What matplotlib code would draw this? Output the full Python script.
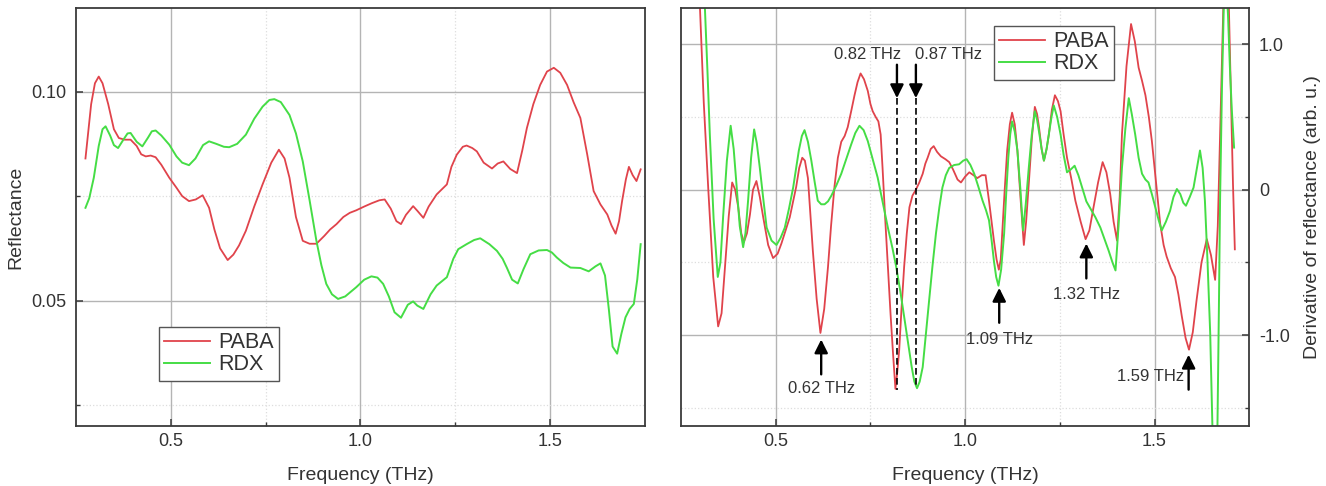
import matplotlib
matplotlib.use("Agg")
import matplotlib.pyplot as plt
from matplotlib.ticker import FixedLocator, FixedFormatter

plt.rcParams['font.family'] = ['Liberation Sans', 'DejaVu Sans']

# ---- left panel: reflectance ----
paba_f = [0.275, 0.290, 0.300, 0.310, 0.320, 0.335, 0.350, 0.363, 0.378, 0.394,
          0.410, 0.422, 0.434, 0.447, 0.460, 0.475, 0.496, 0.515, 0.530, 0.548,
          0.566, 0.584, 0.601, 0.615, 0.630, 0.650, 0.665, 0.680, 0.698, 0.720,
          0.742, 0.765, 0.785, 0.800, 0.813, 0.830, 0.848, 0.866, 0.884, 0.905,
          0.920, 0.937, 0.955, 0.972, 0.989, 1.010, 1.030, 1.050, 1.064, 1.080,
          1.095, 1.107, 1.120, 1.139, 1.150, 1.166, 1.180, 1.201, 1.228, 1.240,
          1.254, 1.270, 1.280, 1.295, 1.307, 1.325, 1.347, 1.362, 1.377, 1.395,
          1.413, 1.427, 1.439, 1.456, 1.474, 1.492, 1.510, 1.527, 1.545, 1.562,
          1.580, 1.598, 1.615, 1.633, 1.651, 1.662, 1.673, 1.682, 1.690, 1.700,
          1.708, 1.718, 1.728, 1.739]
paba_r = [0.0840, 0.0970, 0.1020, 0.1036, 0.1020, 0.0970, 0.0910, 0.0889, 0.0885, 0.0885,
          0.0870, 0.0850, 0.0845, 0.0847, 0.0843, 0.0825, 0.0794, 0.0770, 0.0750, 0.0738,
          0.0742, 0.0752, 0.0722, 0.0670, 0.0625, 0.0597, 0.0610, 0.0632, 0.0667, 0.0725,
          0.0778, 0.0830, 0.0861, 0.0840, 0.0794, 0.0700, 0.0643, 0.0636, 0.0636, 0.0655,
          0.0670, 0.0683, 0.0700, 0.0710, 0.0716, 0.0725, 0.0733, 0.0740, 0.0742, 0.0720,
          0.0690, 0.0683, 0.0705, 0.0726, 0.0715, 0.0698, 0.0725, 0.0754, 0.0778, 0.0820,
          0.0849, 0.0868, 0.0871, 0.0865, 0.0857, 0.0830, 0.0816, 0.0828, 0.0833, 0.0815,
          0.0805, 0.0860, 0.0913, 0.0970, 0.1016, 0.1048, 0.1057, 0.1045, 0.1016, 0.0975,
          0.0937, 0.0850, 0.0762, 0.0730, 0.0706, 0.0680, 0.0660, 0.0690, 0.0738, 0.0790,
          0.0820, 0.0800, 0.0786, 0.0814]

rdx_f = [0.275, 0.285, 0.297, 0.310, 0.320, 0.328, 0.340, 0.350, 0.361, 0.375,
         0.386, 0.394, 0.410, 0.425, 0.440, 0.450, 0.460, 0.475, 0.496, 0.515,
         0.530, 0.548, 0.565, 0.585, 0.601, 0.620, 0.640, 0.654, 0.675, 0.698,
         0.720, 0.742, 0.760, 0.773, 0.790, 0.813, 0.830, 0.848, 0.866, 0.884,
         0.897, 0.910, 0.925, 0.941, 0.960, 0.989, 1.010, 1.029, 1.045, 1.060,
         1.075, 1.090, 1.107, 1.125, 1.139, 1.150, 1.166, 1.185, 1.201, 1.228,
         1.245, 1.258, 1.280, 1.300, 1.316, 1.340, 1.360, 1.375, 1.386, 1.400,
         1.415, 1.430, 1.448, 1.470, 1.492, 1.505, 1.518, 1.535, 1.554, 1.580,
         1.602, 1.620, 1.633, 1.645, 1.655, 1.665, 1.677, 1.688, 1.699, 1.710,
         1.721, 1.730, 1.739]
rdx_r = [0.0722, 0.0745, 0.0794, 0.0870, 0.0910, 0.0917, 0.0895, 0.0872, 0.0865, 0.0885,
         0.0900, 0.0901, 0.0880, 0.0869, 0.0890, 0.0905, 0.0907, 0.0895, 0.0873, 0.0845,
         0.0830, 0.0824, 0.0840, 0.0872, 0.0881, 0.0875, 0.0868, 0.0867, 0.0875, 0.0897,
         0.0935, 0.0964, 0.0980, 0.0982, 0.0975, 0.0944, 0.0900, 0.0833, 0.0740, 0.0643,
         0.0585, 0.0540, 0.0515, 0.0504, 0.0510, 0.0532, 0.0550, 0.0558, 0.0555, 0.0540,
         0.0510, 0.0472, 0.0459, 0.0490, 0.0498, 0.0488, 0.0480, 0.0515, 0.0536, 0.0556,
         0.0600, 0.0623, 0.0635, 0.0645, 0.0649, 0.0635, 0.0619, 0.0600, 0.0579, 0.0550,
         0.0541, 0.0575, 0.0611, 0.0620, 0.0621, 0.0615, 0.0603, 0.0590, 0.0579, 0.0578,
         0.0570, 0.0582, 0.0589, 0.0560, 0.0480, 0.0390, 0.0373, 0.0420, 0.0460, 0.0480,
         0.0492, 0.0550, 0.0635]

# ---- right panel: derivative ----
dpaba_f = [0.295, 0.300, 0.310, 0.322, 0.335, 0.348, 0.357, 0.366, 0.376, 0.385,
           0.393, 0.401, 0.409, 0.416, 0.424, 0.432, 0.440, 0.449, 0.458, 0.467,
           0.480, 0.493, 0.505, 0.515, 0.526, 0.537, 0.546, 0.554, 0.562, 0.570,
           0.577, 0.585, 0.591, 0.598, 0.608, 0.618, 0.628, 0.638, 0.646, 0.655,
           0.664, 0.673, 0.682, 0.690, 0.700, 0.708, 0.716, 0.724, 0.733, 0.743,
           0.750, 0.756, 0.764, 0.771, 0.777, 0.782, 0.789, 0.796, 0.803, 0.809,
           0.816, 0.821, 0.826, 0.832, 0.839, 0.846, 0.853, 0.861, 0.870, 0.879,
           0.888, 0.895, 0.901, 0.909, 0.917, 0.926, 0.936, 0.948, 0.958, 0.968,
           0.980, 0.989, 1.000, 1.011, 1.022, 1.032, 1.044, 1.054, 1.063, 1.070,
           1.076, 1.083, 1.089, 1.094, 1.098, 1.104, 1.111, 1.118, 1.124, 1.131,
           1.138, 1.146, 1.155, 1.161, 1.168, 1.176, 1.184, 1.190, 1.195, 1.202,
           1.208, 1.215, 1.221, 1.229, 1.237, 1.245, 1.252, 1.260, 1.269, 1.280,
           1.291, 1.305, 1.318, 1.328, 1.339, 1.351, 1.363, 1.373, 1.383, 1.392,
           1.401, 1.408, 1.414, 1.426, 1.438, 1.448, 1.458, 1.467, 1.476, 1.485,
           1.493, 1.504, 1.515, 1.524, 1.532, 1.543, 1.554, 1.563, 1.572, 1.582,
           1.591, 1.601, 1.611, 1.624, 1.638, 1.649, 1.660, 1.667, 1.673, 1.679,
           1.684, 1.690, 1.695, 1.702, 1.707, 1.712]
dpaba = [1.60, 1.25, 0.60, 0.00, -0.60, -0.94, -0.85, -0.53, -0.18, 0.05,
         0.00, -0.12, -0.30, -0.36, -0.30, -0.17, 0.00, 0.06, -0.05, -0.19,
         -0.38, -0.47, -0.44, -0.37, -0.28, -0.19, -0.08, 0.02, 0.15, 0.22,
         0.20, 0.08, -0.15, -0.42, -0.75, -0.985, -0.82, -0.53, -0.25, 0.02,
         0.22, 0.33, 0.37, 0.43, 0.55, 0.65, 0.74, 0.80, 0.76, 0.68,
         0.59, 0.54, 0.50, 0.47, 0.38, 0.15, -0.20, -0.53, -0.85, -1.10,
         -1.37, -1.25, -1.10, -0.82, -0.53, -0.30, -0.12, -0.04, 0.00, 0.05,
         0.11, 0.18, 0.22, 0.28, 0.30, 0.26, 0.23, 0.21, 0.19, 0.14,
         0.07, 0.05, 0.09, 0.12, 0.10, 0.08, 0.10, 0.10, -0.075, -0.22,
         -0.35, -0.48, -0.55, -0.48, -0.30, -0.02, 0.27, 0.45, 0.53, 0.45,
         0.27, -0.05, -0.38, -0.22, 0.04, 0.35, 0.57, 0.52, 0.43, 0.28,
         0.20, 0.28, 0.38, 0.55, 0.65, 0.61, 0.54, 0.38, 0.22, 0.08,
         -0.075, -0.22, -0.34, -0.28, -0.12, 0.05, 0.19, 0.12, -0.03, -0.22,
         -0.35, -0.05, 0.38, 0.85, 1.14, 1.02, 0.84, 0.75, 0.65, 0.50,
         0.335, 0.05, -0.235, -0.38, -0.46, -0.54, -0.60, -0.72, -0.87, -1.02,
         -1.10, -0.98, -0.76, -0.50, -0.34, -0.45, -0.62, -0.25, 0.38, 1.00,
         1.50, 1.60, 1.40, 0.61, 0.05, -0.41]

drdx_f = [0.305, 0.313, 0.320, 0.326, 0.336, 0.347, 0.354, 0.361, 0.371, 0.381,
          0.389, 0.397, 0.405, 0.414, 0.420, 0.427, 0.435, 0.443, 0.450, 0.458,
          0.467, 0.476, 0.489, 0.502, 0.513, 0.524, 0.535, 0.546, 0.554, 0.561,
          0.569, 0.576, 0.585, 0.594, 0.603, 0.611, 0.620, 0.629, 0.638, 0.647,
          0.660, 0.673, 0.686, 0.699, 0.710, 0.721, 0.732, 0.743, 0.756, 0.769,
          0.782, 0.796, 0.808, 0.818, 0.829, 0.839, 0.849, 0.859, 0.866, 0.873,
          0.880, 0.888, 0.896, 0.905, 0.914, 0.923, 0.932, 0.940, 0.949, 0.958,
          0.971, 0.984, 0.995, 1.004, 1.014, 1.024, 1.035, 1.046, 1.055, 1.063,
          1.070, 1.076, 1.082, 1.088, 1.095, 1.103, 1.109, 1.114, 1.119, 1.124,
          1.131, 1.138, 1.146, 1.153, 1.160, 1.168, 1.176, 1.184, 1.190, 1.195,
          1.202, 1.208, 1.215, 1.221, 1.228, 1.234, 1.243, 1.252, 1.260, 1.269,
          1.279, 1.289, 1.299, 1.309, 1.320, 1.331, 1.344, 1.357, 1.368, 1.379,
          1.389, 1.397, 1.405, 1.414, 1.423, 1.432, 1.440, 1.449, 1.458, 1.467,
          1.476, 1.484, 1.493, 1.502, 1.511, 1.519, 1.530, 1.541, 1.550, 1.559,
          1.568, 1.576, 1.583, 1.593, 1.603, 1.612, 1.620, 1.627, 1.633, 1.640,
          1.647, 1.653, 1.660, 1.666, 1.670, 1.673, 1.678, 1.683, 1.688, 1.694,
          1.699, 1.704, 1.710]
drdx = [1.60, 1.25, 0.80, 0.38, -0.20, -0.60, -0.50, -0.19, 0.20, 0.44,
        0.28, 0.015, -0.25, -0.395, -0.30, -0.075, 0.22, 0.415, 0.32, 0.15,
        -0.06, -0.26, -0.35, -0.38, -0.33, -0.26, -0.13, 0.015, 0.15, 0.27,
        0.37, 0.41, 0.33, 0.20, 0.05, -0.075, -0.10, -0.10, -0.08, -0.04,
        0.03, 0.11, 0.21, 0.31, 0.39, 0.44, 0.41, 0.335, 0.21, 0.085,
        -0.08, -0.26, -0.40, -0.53, -0.70, -0.875, -1.05, -1.22, -1.32, -1.365,
        -1.32, -1.22, -1.00, -0.76, -0.52, -0.30, -0.12, 0.015, 0.10, 0.15,
        0.17, 0.175, 0.20, 0.21, 0.17, 0.11, 0.02, -0.075, -0.14, -0.21,
        -0.35, -0.49, -0.60, -0.66, -0.55, -0.30, 0.00, 0.22, 0.38, 0.47,
        0.40, 0.27, 0.00, -0.28, -0.10, 0.15, 0.38, 0.54, 0.48, 0.40,
        0.28, 0.20, 0.28, 0.38, 0.50, 0.58, 0.50, 0.38, 0.24, 0.12,
        0.14, 0.165, 0.10, 0.015, -0.08, -0.13, -0.19, -0.26, -0.34, -0.42,
        -0.50, -0.555, -0.25, 0.15, 0.42, 0.63, 0.52, 0.38, 0.22, 0.11,
        0.07, 0.05, -0.03, -0.12, -0.21, -0.28, -0.22, -0.145, -0.05, 0.005,
        -0.03, -0.09, -0.11, -0.05, 0.015, 0.15, 0.27, 0.15, -0.075, -0.50,
        -0.99, -1.65, -2.00, -1.65, -0.80, -0.075, 0.70, 1.30, 1.50, 1.20,
        0.84, 0.55, 0.29]

# marked absorption features (THz)
up_marks = [0.62, 1.09, 1.32, 1.59]
down_marks = [0.82, 0.87]

red = '#e0434b'
green = '#45dd45'
txt = '#333333'

fig = plt.figure(figsize=(13.26, 4.86), dpi=100)
ax1 = fig.add_axes([0.0573, 0.1235, 0.4290, 0.8600])
ax2 = fig.add_axes([0.5136, 0.1235, 0.4285, 0.8600])


def style_axis(ax):
    ax.set_xlim(0.25, 1.75)
    ax.xaxis.set_major_locator(FixedLocator([0.5, 1.0, 1.5]))
    ax.xaxis.set_major_formatter(FixedFormatter(['0.5', '1.0', '1.5']))
    ax.xaxis.set_minor_locator(FixedLocator([0.75, 1.25]))
    ax.grid(which='major', color='#b4b4b4', lw=1.0, ls='-')
    ax.grid(which='minor', color='#dddddd', lw=0.9, ls=':')
    ax.set_axisbelow(True)
    for s in ax.spines.values():
        s.set_color('#3a3a3a')
        s.set_linewidth(1.3)
    ax.tick_params(which='both', direction='in', colors='#3a3a3a',
                   labelcolor=txt, labelsize=13)
    ax.tick_params(which='major', length=5, width=1.1)
    ax.tick_params(which='minor', length=3, width=1.0)
    ax.tick_params(axis='x', pad=5)
    ax.set_xlabel('Frequency (THz)', fontsize=14, color=txt, labelpad=12)


def style_legend(ax, **kw):
    leg = ax.legend(borderaxespad=0, fontsize=15.5, fancybox=False,
                    edgecolor='#555555', framealpha=1, handlelength=2.1,
                    handletextpad=0.4, labelspacing=0.05, borderpad=0.25, **kw)
    leg.get_frame().set_linewidth(1.0)
    for t in leg.get_texts():
        t.set_color(txt)
    return leg


# left panel
ax1.plot(paba_f, paba_r, color=red, lw=1.3, label='PABA')
ax1.plot(rdx_f, rdx_r, color=green, lw=1.4, label='RDX')
style_axis(ax1)
ax1.set_ylim(0.02, 0.12)
ax1.yaxis.set_major_locator(FixedLocator([0.05, 0.10]))
ax1.yaxis.set_major_formatter(FixedFormatter(['0.05', '0.10']))
ax1.yaxis.set_minor_locator(FixedLocator([0.025, 0.075]))
ax1.tick_params(axis='y', pad=7)
ax1.set_ylabel('Reflectance', fontsize=14, color=txt)
ax1.yaxis.set_label_coords(-0.090, 0.5)
style_legend(ax1, loc='lower left', bbox_to_anchor=(0.146, 0.108))

# right panel
ax2.plot(dpaba_f, dpaba, color=red, lw=1.3, label='PABA')
ax2.plot(drdx_f, drdx, color=green, lw=1.4, label='RDX')
style_axis(ax2)
ax2.set_ylim(-1.625, 1.25)
ax2.yaxis.set_major_locator(FixedLocator([-1.0, 0.0, 1.0]))
ax2.yaxis.set_major_formatter(FixedFormatter(['-1.0', '0', '1.0']))
ax2.yaxis.set_minor_locator(FixedLocator([-1.5, -0.5, 0.5]))
ax2.yaxis.tick_right()
ax2.yaxis.set_label_position('right')
ax2.tick_params(axis='y', which='both', left=False, right=True, pad=7)
ax2.set_ylabel('Derivative of reflectance (arb. u.)', fontsize=14, color=txt, labelpad=10)
style_legend(ax2, loc='upper left', bbox_to_anchor=(0.551, 0.957))

arrow = dict(arrowstyle='-|>', color='black', lw=1.7, mutation_scale=20,
             shrinkA=0, shrinkB=0)

# upward arrows: (head, tail, text y, text x, ha)
up_pos = {0.62: (-1.03, -1.27, -1.37, 0.62, 'center'),
          1.09: (-0.675, -0.915, -1.03, 1.09, 'center'),
          1.32: (-0.37, -0.61, -0.72, 1.32, 'center'),
          1.59: (-1.135, -1.375, -1.285, 1.578, 'right')}
for f in up_marks:
    yh, yt, ty, tx, ha = up_pos[f]
    ax2.annotate('', xy=(f, yh), xytext=(f, yt), arrowprops=arrow)
    ax2.text(tx, ty, '%.2f THz' % f, ha=ha, va='center', fontsize=12, color=txt)

# downward arrows with dashed drop lines
down_pos = {0.82: (0.83, 'right', -1.375), 0.87: (0.868, 'left', -1.36)}
for f in down_marks:
    tx, ha, ybot = down_pos[f]
    ax2.annotate('', xy=(f, 0.63), xytext=(f, 0.86), arrowprops=arrow)
    ax2.plot([f, f], [0.63, ybot], color='black', lw=1.2, ls=(0, (4, 2)))
    ax2.text(tx, 0.93, '%.2f THz' % f, ha=ha, va='center', fontsize=12, color=txt)

fig.savefig('out.png', dpi=100)
